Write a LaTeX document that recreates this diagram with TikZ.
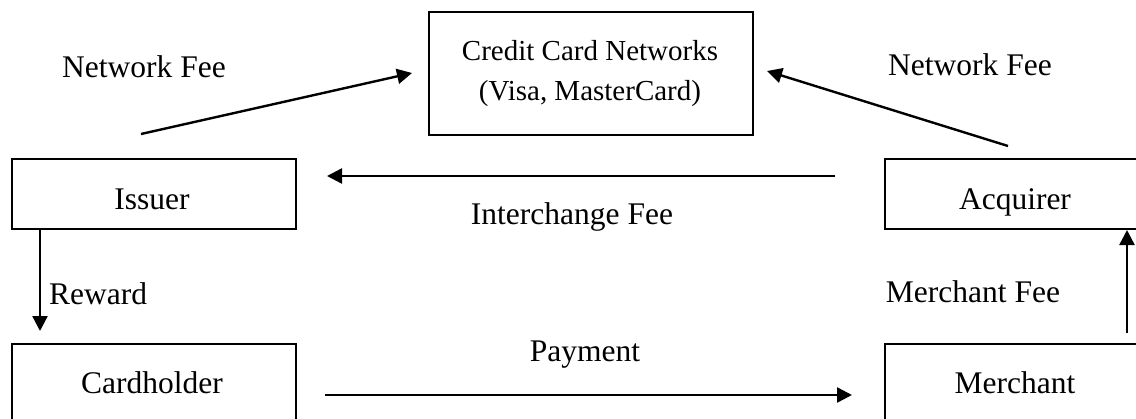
\documentclass[tikz,border=0pt]{standalone}
\usepackage{fontspec}
\setmainfont{Liberation Serif}
\usetikzlibrary{arrows.meta}
\begin{document}
\begin{tikzpicture}[x=1pt,y=-1pt,
  box/.style={draw=black,line width=2pt,inner sep=0pt,anchor=north west},
  lbl/.style={font=\fontsize{31.5}{36}\selectfont,anchor=base,inner sep=0pt},
  small/.style={font=\fontsize{29}{33}\selectfont,anchor=base,inner sep=0pt},
  flow/.style={line width=2.4pt,-{Triangle[length=15pt,width=15pt]}}]
\useasboundingbox (0,0) rectangle (1136,418);
\clip (0,0) rectangle (1136,418);
% boxes
\node[box,minimum width=324pt,minimum height=123pt] (ccn) at (428,11) {};
\node[box,minimum width=284pt,minimum height=70pt] (issuer) at (11,158) {};
\node[box,minimum width=264pt,minimum height=70pt] (acquirer) at (884,158) {};
\node[box,minimum width=284pt,minimum height=100pt] (cardholder) at (11,343) {};
\node[box,minimum width=264pt,minimum height=100pt] (merchant) at (884,343) {};
% box texts
\node[small] (ccn1) at (590,60) {Credit Card Networks};
\node[small] (ccn2) at (590,100) {(Visa, MasterCard)};
\node[lbl] (tissuer) at (152,209) {Issuer};
\node[lbl] (tacq) at (1015,209) {Acquirer};
\node[lbl] (tcard) at (152,393) {Cardholder};
\node[lbl] (tmer) at (1015,393) {Merchant};
% labels
\node[lbl] (nfl) at (144,77) {Network Fee};
\node[lbl] (nfr) at (970,75) {Network Fee};
\node[lbl] (ifee) at (572,224) {Interchange Fee};
\node[lbl,anchor=base west] (rew) at (49,304) {Reward};
\node[lbl] (mfee) at (973,302) {Merchant Fee};
\node[lbl] (pay) at (585,361) {Payment};
% connector end points
\coordinate (nflS) at (141,134);
\coordinate (nflE) at (412,73);
\coordinate (nfrS) at (1008,146);
\coordinate (nfrE) at (767,71);
\coordinate (icS) at (835,176);
\coordinate (icE) at (327,176);
\coordinate (rw) at (40,0);
\coordinate (rwE) at (40,331);
\coordinate (mfS) at (1127,333);
\coordinate (payS) at (325,395);
\coordinate (payE) at (852,395);
% connectors
\draw[flow] (nflS) -- (nflE);
\draw[flow] (nfrS) -- (nfrE);
\draw[flow] (icS) -- (icE);
\draw[flow] (issuer.south -| rw) -- (rwE);
\draw[flow] (mfS) -- (acquirer.south -| mfS);
\draw[flow] (payS) -- (payE);
\end{tikzpicture}
\end{document}
